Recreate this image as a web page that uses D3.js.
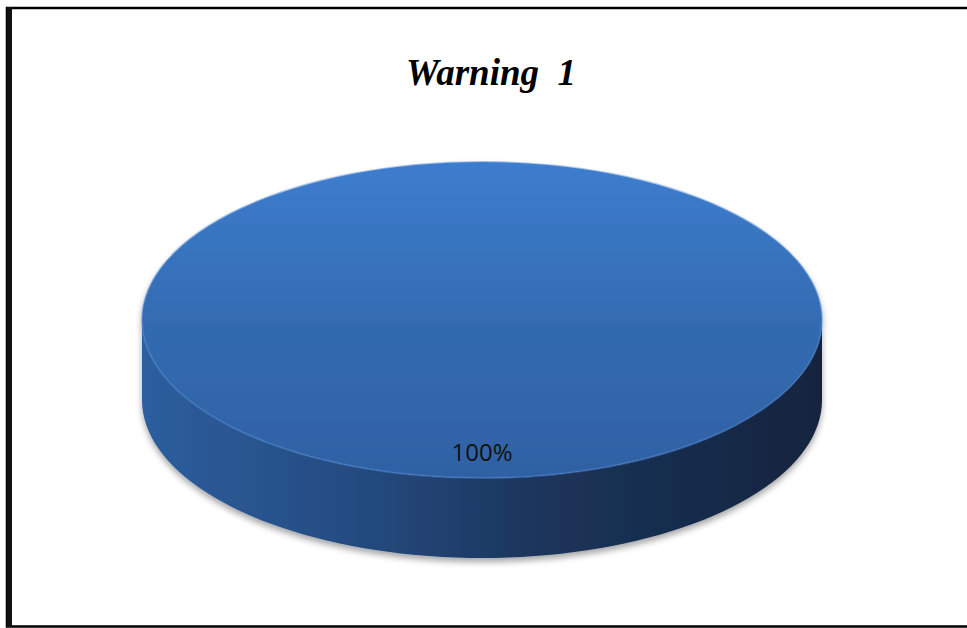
<!DOCTYPE html>
<html>
<head>
<meta charset="utf-8">
<script src="https://cdn.jsdelivr.net/npm/d3@7"></script>
<style>
  html, body { margin: 0; padding: 0; background: #fff; }
  svg { display: block; }
</style>
</head>
<body>
<div id="chart"></div>
<script>
'use strict';

// data
var categories = ['Warning 1'];
var values = [100];
var labels = ['100%'];
var title = 'Warning  1';

var width = 967, height = 628;

var settings = {};
settings.cx = 482;
settings.cy = 320;
settings.rx = 340;
settings.ry = 158;
settings.depth = 80;

var svg = d3.select('#chart').append('svg')
    .attr('width', width)
    .attr('height', height);

var defs = svg.append('defs');

var topGrad = defs.append('linearGradient')
    .attr('id', 'topGrad')
    .attr('x1', 0).attr('y1', 0).attr('x2', 0).attr('y2', 1);
topGrad.append('stop').attr('offset', '0%').attr('stop-color', '#3d7dce');
topGrad.append('stop').attr('offset', '55%').attr('stop-color', '#336aaf');
topGrad.append('stop').attr('offset', '100%').attr('stop-color', '#2f61a4');

var sideGrad = defs.append('linearGradient')
    .attr('id', 'sideGrad')
    .attr('gradientUnits', 'userSpaceOnUse')
    .attr('x1', settings.cx - settings.rx).attr('y1', 0)
    .attr('x2', settings.cx + settings.rx).attr('y2', 0);
sideGrad.append('stop').attr('offset', '0%').attr('stop-color', '#2d5e9e');
sideGrad.append('stop').attr('offset', '30%').attr('stop-color', '#254c82');
sideGrad.append('stop').attr('offset', '60%').attr('stop-color', '#1b3459');
sideGrad.append('stop').attr('offset', '100%').attr('stop-color', '#13243e');

var shadow = defs.append('filter')
    .attr('id', 'shadow')
    .attr('x', '-10%').attr('y', '-10%').attr('width', '120%').attr('height', '130%');
shadow.append('feDropShadow')
    .attr('dx', 0).attr('dy', 4)
    .attr('stdDeviation', 3)
    .attr('flood-color', '#000')
    .attr('flood-opacity', 0.35);

// frame
svg.append('rect')
    .attr('x', 7).attr('y', 8)
    .attr('width', width + 20).attr('height', 618.5)
    .attr('fill', 'none')
    .attr('stroke', '#000')
    .attr('stroke-width', 2.5);
svg.append('rect')
    .attr('x', 7).attr('y', 7)
    .attr('width', 5).attr('height', 620)
    .attr('fill', '#111');

// title
svg.append('text')
    .attr('x', 491)
    .attr('y', 85)
    .attr('text-anchor', 'middle')
    .attr('font-family', '"Liberation Serif", "Times New Roman", serif')
    .attr('font-weight', 'bold')
    .attr('font-style', 'italic')
    .attr('font-size', '37px')
    .style('white-space', 'pre')
    .text(title);

var pie = d3.pie().sort(null).value(function(d) { return d; });
var arcs = pie(values);

function pt(a, dy) {
  return [settings.cx + settings.rx * Math.sin(a), settings.cy - settings.ry * Math.cos(a) + (dy || 0)];
}

var g = svg.append('g').attr('filter', 'url(#shadow)');

// side walls: visible front part of each slice
arcs.forEach(function(d) {
  var a0 = Math.max(d.startAngle, Math.PI / 2);
  var a1 = Math.min(d.endAngle, Math.PI * 3 / 2);
  if (a1 <= a0) return;
  var n = 80, top = [], bottom = [];
  for (var i = 0; i <= n; i++) {
    var a = a0 + (a1 - a0) * i / n;
    top.push(pt(a, 0));
    bottom.push(pt(a, settings.depth));
  }
  var pts = top.concat(bottom.reverse());
  g.append('path')
      .attr('d', d3.line()(pts) + 'Z')
      .attr('fill', 'url(#sideGrad)');
});

// top faces
var arc = d3.arc().innerRadius(0).outerRadius(settings.rx);
g.selectAll('.slice')
    .data(arcs)
  .enter().append('path')
    .attr('class', 'slice')
    .attr('transform', 'translate(' + settings.cx + ',' + settings.cy + ') scale(1,' + (settings.ry / settings.rx) + ')')
    .attr('d', arc)
    .attr('fill', 'url(#topGrad)')
    .attr('stroke', '#4b86d3')
    .attr('stroke-opacity', 0.45)
    .attr('stroke-width', 2)
    .attr('vector-effect', 'non-scaling-stroke');

// labels
svg.selectAll('.label')
    .data(arcs)
  .enter().append('text')
    .attr('class', 'label')
    .attr('x', settings.cx)
    .attr('y', 461)
    .attr('text-anchor', 'middle')
    .attr('font-family', '"Open Sans", "Noto Sans", sans-serif')
    .attr('font-size', '24px')
    .attr('fill', '#111')
    .text(function(d, i) { return labels[i]; });
</script>
</body>
</html>
